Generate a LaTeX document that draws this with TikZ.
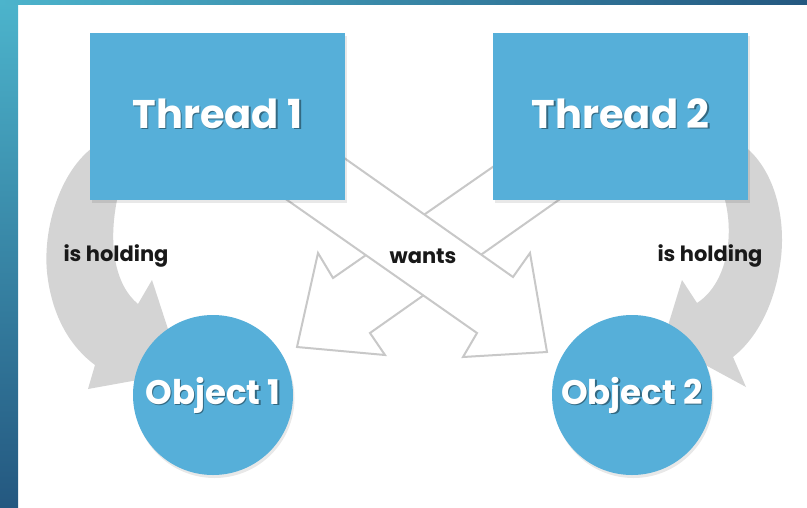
\documentclass[tikz,border=0pt]{standalone}
\usepackage{fontspec}
\setmainfont{Poppins}
\usetikzlibrary{shadows}
\definecolor{boxblue}{RGB}{86,175,217}
\definecolor{holdgrey}{RGB}{212,212,212}
\definecolor{wantgrey}{RGB}{200,200,200}
\definecolor{stripA}{RGB}{76,180,204}
\definecolor{stripB}{RGB}{36,88,128}
\definecolor{labelblack}{RGB}{25,25,25}
\begin{document}
\begin{tikzpicture}[x=1pt,y=-1pt,
  softshadow/.style={drop shadow={shadow xshift=1.5pt,shadow yshift=-3pt,opacity=0.09,fill=black}},
  threadbox/.style={rectangle,fill=boxblue,minimum width=255pt,minimum height=167pt,inner sep=0pt,softshadow},
  objcircle/.style={circle,fill=boxblue,minimum size=160pt,inner sep=0pt,softshadow},
  bigtext/.style={text=white,font=\bfseries\fontsize{40}{48}\selectfont,inner sep=0pt},
  bigshadow/.style={text=black,opacity=0.4,font=\bfseries\fontsize{40}{48}\selectfont,inner sep=0pt},
  objtext/.style={text=white,font=\bfseries\fontsize{34}{40}\selectfont,inner sep=0pt},
  objshadow/.style={text=black,opacity=0.4,font=\bfseries\fontsize{34}{40}\selectfont,inner sep=0pt},
  edgelabel/.style={text=labelblack,font=\bfseries\fontsize{21}{24}\selectfont,inner sep=0pt},
  holdarrow/.style={fill=holdgrey},
  wantarrow/.style={fill=white,draw=wantgrey,line width=2pt,line join=miter}
]
\useasboundingbox (0,0) rectangle (807,507);
\fill[white] (0,0) rectangle (807,507);
% frame strips
\shade[top color=stripA,bottom color=stripB] (0,0) rectangle (18,507);
\shade[left color=stripA,right color=stripB] (0,0) rectangle (807,4);

% "is holding" curved arrows
\fill[holdarrow] (105,140) .. controls (62,160) and (40,230) .. (48,280)
  .. controls (54,320) and (72,348) .. (95,365) -- (88,389) -- (182,372)
  -- (152,280) -- (138,304) .. controls (115,285) and (108,245) .. (117,200)
  -- (130,190) -- cycle;
\fill[holdarrow] (735,140) .. controls (772,160) and (788,215) .. (780,265)
  .. controls (774,305) and (757,338) .. (733,357) -- (746,387) -- (663,342)
  -- (682,280) -- (697,303) .. controls (725,285) and (735,240) .. (725,200)
  -- (712,190) -- cycle;

% "wants" outlined arrows
\draw[wantarrow] (510,155) -- (333,278) -- (318,253) -- (297,347) -- (385,355)
  -- (370,333) -- (580,185) -- cycle;
\draw[wantarrow] (330,148) -- (513,277) -- (530,253) -- (547,352) -- (463,357)
  -- (477,333) -- (260,181) -- cycle;

% nodes
\node[threadbox] (t1) at (217.5,116.5) {};
\node[threadbox] (t2) at (620.5,116.5) {};
\node[objcircle] (o1) at (213,395) {};
\node[objcircle] (o2) at (632,395) {};

% texts
\node[bigshadow] (t1s) at ([xshift=1.5pt,yshift=1.5pt]t1.center) {Thread 1};
\node[bigtext] (t1t) at ([yshift=3pt]t1.center) {Thread 1};
\node[bigshadow] (t2s) at ([xshift=1.5pt,yshift=1.5pt]t2.center) {Thread 2};
\node[bigtext] (t2t) at ([yshift=3pt]t2.center) {Thread 2};
\node[objshadow] (o1s) at ([xshift=1.5pt,yshift=-1.5pt]o1.center) {Object 1};
\node[objtext] (o1t) at (o1.center) {Object 1};
\node[objshadow] (o2s) at ([xshift=1.5pt,yshift=-1.5pt]o2.center) {Object 2};
\node[objtext] (o2t) at (o2.center) {Object 2};

\node[edgelabel] (h1) at (116,256) {is holding};
\node[edgelabel] (w) at (423,256) {wants};
\node[edgelabel] (h2) at (710,256) {is holding};
\end{tikzpicture}
\end{document}
